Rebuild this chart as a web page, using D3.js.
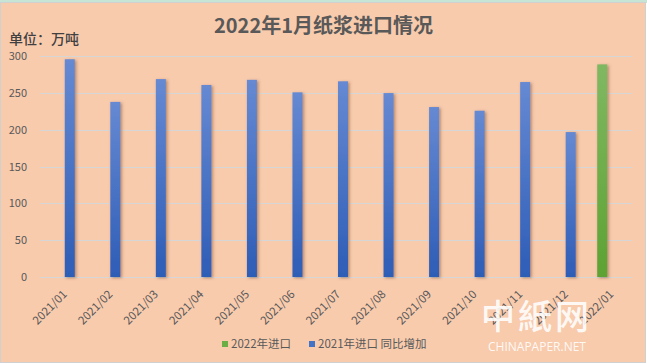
<!DOCTYPE html>
<html>
<head>
<meta charset="utf-8">
<script src="https://cdn.jsdelivr.net/npm/d3@7"></script>
<style>
  html, body { margin: 0; padding: 0; background: #ffffff; }
  svg { display: block; }
</style>
</head>
<body>
<svg id="chart" width="647" height="364"></svg>
<script>
const categories = ["2021/01","2021/02","2021/03","2021/04","2021/05","2021/06","2021/07","2021/08","2021/09","2021/10","2021/11","2021/12","2022/01"];
const series = ["2022年进口", "2021年进口 同比增加"];
const values2022 = [null,null,null,null,null,null,null,null,null,null,null,null,289];
const values2021 = [296,238,269,261,268,251,266,250,231,226,265,197,null];
const yTicks = [0,50,100,150,200,250,300];
const title = "2022年1月纸浆进口情况";
const unitLabel = "单位：万吨";

const W = 647, H = 364;
const font = "'Noto Sans CJK SC', 'Noto Sans', sans-serif";
const svg = d3.select("#chart");

const defs = svg.append("defs");
function grad(id, top, bottom) {
  const g = defs.append("linearGradient").attr("id", id).attr("x1", 0).attr("y1", 0).attr("x2", 0).attr("y2", 1);
  g.append("stop").attr("offset", "0%").attr("stop-color", top);
  g.append("stop").attr("offset", "100%").attr("stop-color", bottom);
}
grad("gBlue", "#6689D2", "#2E5DB6");
grad("gGreen", "#80B862", "#5DA233");
const f = defs.append("filter").attr("id", "shadow").attr("x", "-60%").attr("y", "-10%").attr("width", "220%").attr("height", "120%");
f.append("feDropShadow").attr("dx", 1.5).attr("dy", 1).attr("stdDeviation", 1.6)
  .attr("flood-color", "#6b3c22").attr("flood-opacity", 0.5);

// frame
svg.append("rect").attr("x", 0).attr("y", 0).attr("width", W).attr("height", 3).attr("fill", "#c6e5d4");
svg.append("rect").attr("x", 0.5).attr("y", 2.5).attr("width", W - 2).attr("height", H - 4)
  .attr("fill", "#F8CBAD").attr("stroke", "#d0d0d0").attr("stroke-width", 1);

const plot = { left: 40, right: 632, top: 56.3, bottom: 277 };

const x0 = d3.scaleBand().domain(categories).range([plot.left, plot.right]).paddingInner(0.473).paddingOuter(0.2365);
const x1 = d3.scaleBand().domain(series).range([0, x0.bandwidth()]).paddingInner(0.2857);
const y = d3.scaleLinear().domain([0, 300]).range([plot.bottom, plot.top]);

// gridlines
svg.append("g").selectAll("line").data(yTicks).join("line")
  .attr("x1", plot.left).attr("x2", plot.right)
  .attr("y1", d => Math.round(y(d)) + 0.5).attr("y2", d => Math.round(y(d)) + 0.5)
  .attr("stroke", "#D6D6D6").attr("stroke-width", 1.2);

// y axis labels
const yAxis = d3.axisLeft(y).tickValues(yTicks).tickSize(0).tickPadding(0);
const gy = svg.append("g").attr("transform", `translate(${plot.left - 13},0)`).call(yAxis);
gy.select(".domain").remove();
gy.selectAll("text").attr("font-family", font).attr("font-size", 11).attr("fill", "#595959");

// bars
const rows = categories.map((c, i) => ({ c, v: [values2022[i], values2021[i]] }));
const seriesFill = ["url(#gGreen)", "url(#gBlue)"];
const groups = svg.append("g").selectAll("g").data(rows).join("g")
  .attr("transform", d => `translate(${x0(d.c)},0)`);
groups.selectAll("rect").data(d => d.v.map((v, k) => ({ s: series[k], k, v })).filter(e => e.v != null))
  .join("rect")
  .attr("x", e => x1(e.s)).attr("width", x1.bandwidth())
  .attr("y", e => y(e.v)).attr("height", e => y(0) - y(e.v))
  .attr("fill", e => seriesFill[e.k])
  .attr("filter", "url(#shadow)");

// x axis labels
const xAxis = d3.axisBottom(x0).tickSize(0).tickPadding(0);
const gx = svg.append("g").attr("transform", `translate(0,${plot.bottom})`).call(xAxis);
gx.select(".domain").remove();
gx.selectAll("text")
  .attr("font-family", font).attr("font-size", 11.5).attr("fill", "#595959")
  .attr("text-anchor", "end")
  .attr("dy", 0)
  .attr("transform", "translate(5,18) rotate(-45)");

// title
svg.append("text").attr("x", 323.5).attr("y", 33).attr("text-anchor", "middle")
  .attr("font-family", font).attr("font-size", 20).attr("font-weight", "bold").attr("fill", "#595959")
  .text(title);
svg.append("text").attr("x", 9).attr("y", 44)
  .attr("font-family", font).attr("font-size", 14).attr("font-weight", 500).attr("fill", "#404040")
  .text(unitLabel);

// watermark
svg.append("text").attr("x", 481).attr("y", 329)
  .attr("font-family", "'Noto Sans CJK SC', serif").attr("font-size", 34).attr("font-weight", 500)
  .attr("fill", "#ffffff").attr("fill-opacity", 0.9).attr("letter-spacing", 3)
  .text("中紙网");
svg.append("text").attr("x", 537).attr("y", 351).attr("text-anchor", "middle")
  .attr("font-family", "'Open Sans', sans-serif").attr("font-size", 12)
  .attr("fill", "#ffffff").attr("fill-opacity", 0.9)
  .text("CHINAPAPER.NET");

// legend
const legend = svg.append("g");
const legendItems = [
  { label: series[0], color: "#6AAE45", x: 222 },
  { label: series[1], color: "#4472C4", x: 309 }
];
legendItems.forEach(it => {
  legend.append("rect").attr("x", it.x).attr("y", 341).attr("width", 6).attr("height", 6).attr("fill", it.color);
  legend.append("text").attr("x", it.x + 9).attr("y", 347.5)
    .attr("font-family", font).attr("font-size", 11.5).attr("fill", "#595959").text(it.label);
});
</script>
</body>
</html>
